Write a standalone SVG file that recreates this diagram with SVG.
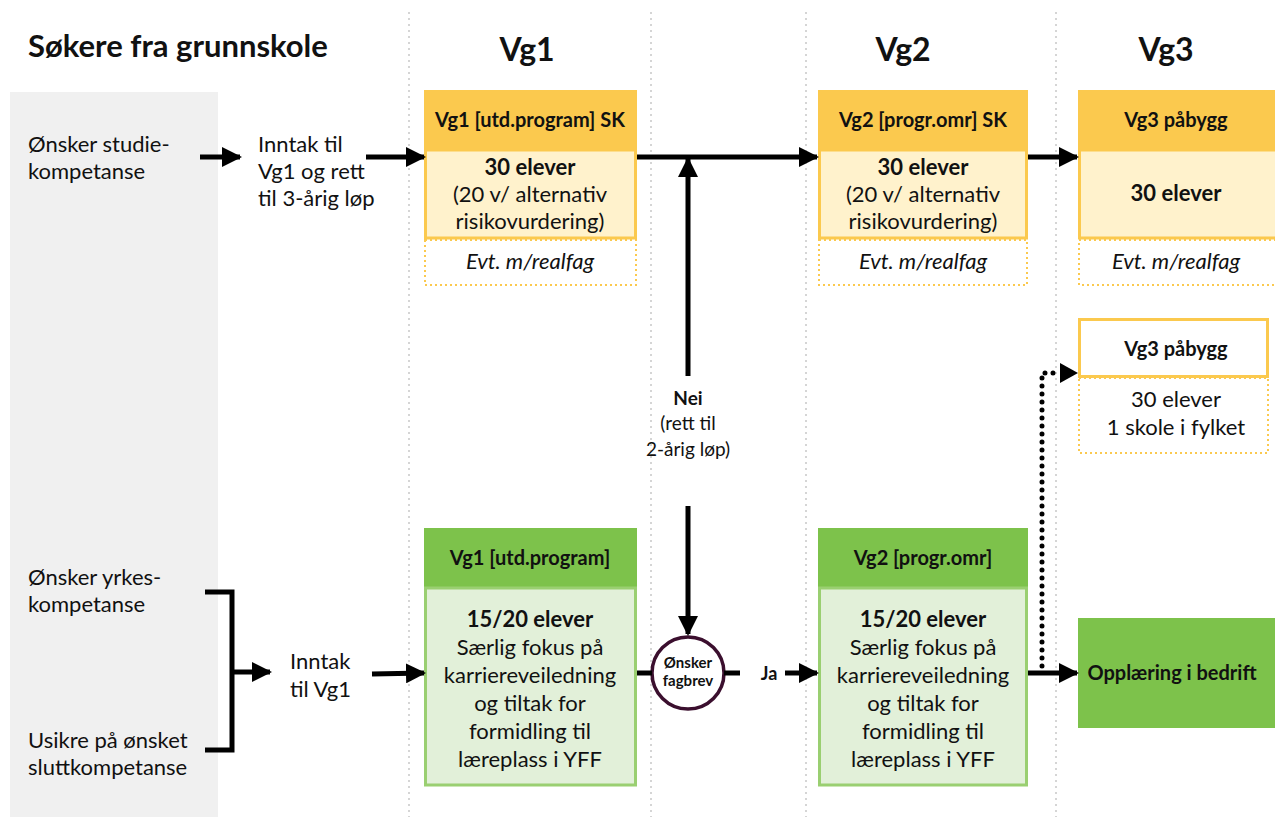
<svg xmlns="http://www.w3.org/2000/svg" width="1275" height="817" viewBox="0 0 1275 817">
<defs>
<marker id="ah" markerWidth="4" markerHeight="4" refX="3.6" refY="2" orient="auto" markerUnits="strokeWidth"><path d="M0,0 L4,2 L0,4 Z" fill="#000"/></marker>
</defs>
<style>
text{font-family:Lato,"Open Sans","Liberation Sans",sans-serif;fill:#111}
.t{font-size:22px}
.c{text-anchor:middle}
.b{font-weight:bold}
.h{font-size:20px;font-weight:bold;text-anchor:middle}
.col{font-size:32px;font-weight:bold;text-anchor:middle}
.yh{fill:#FBC94E}
.yb{fill:#FFF2CC;stroke:#FBC94E;stroke-width:3}
.yd{fill:#fff;stroke:#FBC94E;stroke-width:2;stroke-dasharray:2 3}
.gh{fill:#7DC24B}
.gb{fill:#E2F0D9;stroke:#9ACF71;stroke-width:3}
.grid{stroke:#C8C8C8;stroke-width:1.5;stroke-dasharray:2 4}
.ln{stroke:#000;stroke-width:5;fill:none}
.ar{stroke:#000;stroke-width:5;fill:none;marker-end:url(#ah)}
.lbl{font-size:19px;text-anchor:middle}
</style>
<rect x="10" y="92" width="208" height="725" fill="#F0F0F0"/>
<g id="grid">
<line class="grid" x1="409" y1="12" x2="409" y2="817"/>
<line class="grid" x1="651" y1="12" x2="651" y2="817"/>
<line class="grid" x1="806" y1="12" x2="806" y2="817"/>
<line class="grid" x1="1056" y1="12" x2="1056" y2="817"/>
</g>
<g id="headers">
<text x="28" y="57" style="font-size:31px;font-weight:bold">Søkere fra grunnskole</text>
<text class="col" x="527" y="61">Vg1</text>
<text class="col" x="903" y="61">Vg2</text>
<text class="col" x="1166" y="61">Vg3</text>
</g>
<g id="left-labels">
<text class="t" x="28" y="152">Ønsker studie-</text>
<text class="t" x="28" y="179">kompetanse</text>
<text class="t" x="258" y="152">Inntak til</text>
<text class="t" x="258" y="179">Vg1 og rett</text>
<text class="t" x="258" y="206">til 3-årig løp</text>
<text class="t" x="28" y="585">Ønsker yrkes-</text>
<text class="t" x="28" y="612">kompetanse</text>
<text class="t" x="28" y="748">Usikre på ønsket</text>
<text class="t" x="28" y="775">sluttkompetanse</text>
<text class="t" x="290" y="669">Inntak</text>
<text class="t" x="290" y="697">til Vg1</text>
</g>
<g id="vg1-sk">
<rect class="yh" x="424" y="90" width="213" height="60"/>
<rect class="yb" x="425.5" y="150" width="210" height="88"/>
<rect class="yd" x="425" y="240" width="211" height="45"/>
<text class="h" x="530" y="127">Vg1 [utd.program] SK</text>
<text class="t c b" x="530" y="175">30 elever</text>
<text class="t c" x="530" y="202">(20 v/ alternativ</text>
<text class="t c" x="530" y="229">risikovurdering)</text>
<text class="t c" x="530" y="269" font-style="italic">Evt. m/realfag</text>
</g>
<g id="vg2-sk">
<rect class="yh" x="818" y="90" width="210" height="60"/>
<rect class="yb" x="819.5" y="150" width="207" height="88"/>
<rect class="yd" x="819" y="240" width="208" height="45"/>
<text class="h" x="923" y="127">Vg2 [progr.omr] SK</text>
<text class="t c b" x="923" y="175">30 elever</text>
<text class="t c" x="923" y="202">(20 v/ alternativ</text>
<text class="t c" x="923" y="229">risikovurdering)</text>
<text class="t c" x="923" y="269" font-style="italic">Evt. m/realfag</text>
</g>
<g id="vg3-pabygg">
<rect class="yh" x="1078" y="90" width="200" height="60"/>
<rect class="yb" x="1079.5" y="150" width="200" height="88"/>
<rect class="yd" x="1079" y="240" width="200" height="45"/>
<text class="h" x="1176" y="127">Vg3 påbygg</text>
<text class="t c b" x="1176" y="201">30 elever</text>
<text class="t c" x="1176" y="269" font-style="italic">Evt. m/realfag</text>
</g>
<g id="vg3-pabygg-2">
<rect x="1079.5" y="319.5" width="188" height="57" fill="#fff" stroke="#FBC94E" stroke-width="3"/>
<rect class="yd" x="1079" y="378" width="189" height="75"/>
<text class="h" x="1176" y="356">Vg3 påbygg</text>
<text class="t c" x="1176" y="407">30 elever</text>
<text class="t c" x="1176" y="435">1 skole i fylket</text>
</g>
<g id="vg1-yrkesfag">
<rect class="gh" x="424" y="528" width="213" height="60"/>
<rect class="gb" x="425.5" y="588" width="210" height="197"/>
<text class="h" x="530" y="565">Vg1 [utd.program]</text>
<text class="t c b" x="530" y="627">15/20 elever</text>
<text class="t c" x="530" y="655">Særlig fokus på</text>
<text class="t c" x="530" y="683">karriereveiledning</text>
<text class="t c" x="530" y="711">og tiltak for</text>
<text class="t c" x="530" y="739">formidling til</text>
<text class="t c" x="530" y="767">læreplass i YFF</text>
</g>
<g id="vg2-yrkesfag">
<rect class="gh" x="818" y="528" width="210" height="60"/>
<rect class="gb" x="819.5" y="588" width="207" height="197"/>
<text class="h" x="923" y="565">Vg2 [progr.omr]</text>
<text class="t c b" x="923" y="627">15/20 elever</text>
<text class="t c" x="923" y="655">Særlig fokus på</text>
<text class="t c" x="923" y="683">karriereveiledning</text>
<text class="t c" x="923" y="711">og tiltak for</text>
<text class="t c" x="923" y="739">formidling til</text>
<text class="t c" x="923" y="767">læreplass i YFF</text>
</g>
<g id="opplaering">
<rect class="gh" x="1078" y="618" width="200" height="110"/>
<text class="h" x="1172" y="680">Opplæring i bedrift</text>
</g>
<g id="decision">
<circle cx="688" cy="673" r="36" fill="#fff" stroke="#3B0F2E" stroke-width="3.5"/>
<text x="688" y="668" style="font-size:15px;font-weight:bold;text-anchor:middle">Ønsker</text>
<text x="688" y="686" style="font-size:15px;font-weight:bold;text-anchor:middle">fagbrev</text>
</g>
<g id="connectors">
<line class="ar" x1="200" y1="157" x2="240" y2="157"/>
<line class="ar" x1="366" y1="157" x2="424" y2="157"/>
<line class="ar" x1="637" y1="157" x2="817" y2="157"/>
<line class="ar" x1="1028" y1="157" x2="1077" y2="157"/>
<line class="ar" x1="688" y1="376" x2="688" y2="159"/>
<line class="ar" x1="688" y1="506" x2="688" y2="634"/>
<text class="lbl b" x="688" y="405">Nei</text>
<text class="lbl" x="688" y="430">(rett til</text>
<text class="lbl" x="688" y="456">2-årig løp)</text>
<polyline class="ln" points="205,592 232,592 232,750 205,750"/>
<line class="ar" x1="232" y1="672" x2="270" y2="672"/>
<line class="ar" x1="372" y1="674" x2="424" y2="673"/>
<line class="ln" x1="637" y1="673" x2="652" y2="673"/>
<line class="ln" x1="724" y1="673" x2="740" y2="673"/>
<text x="769" y="680" style="font-size:18px;font-weight:bold;text-anchor:middle">Ja</text>
<line class="ar" x1="785" y1="673" x2="817" y2="673"/>
<line class="ar" x1="1028" y1="673" x2="1077" y2="673"/>
<polyline points="1042,666 1042,373 1060,373" fill="none" stroke="#000" stroke-width="5" stroke-linecap="round" stroke-dasharray="0 8"/>
<path d="M1060,363 L1078,373 L1060,383 Z" fill="#000"/>
</g>
</svg>
